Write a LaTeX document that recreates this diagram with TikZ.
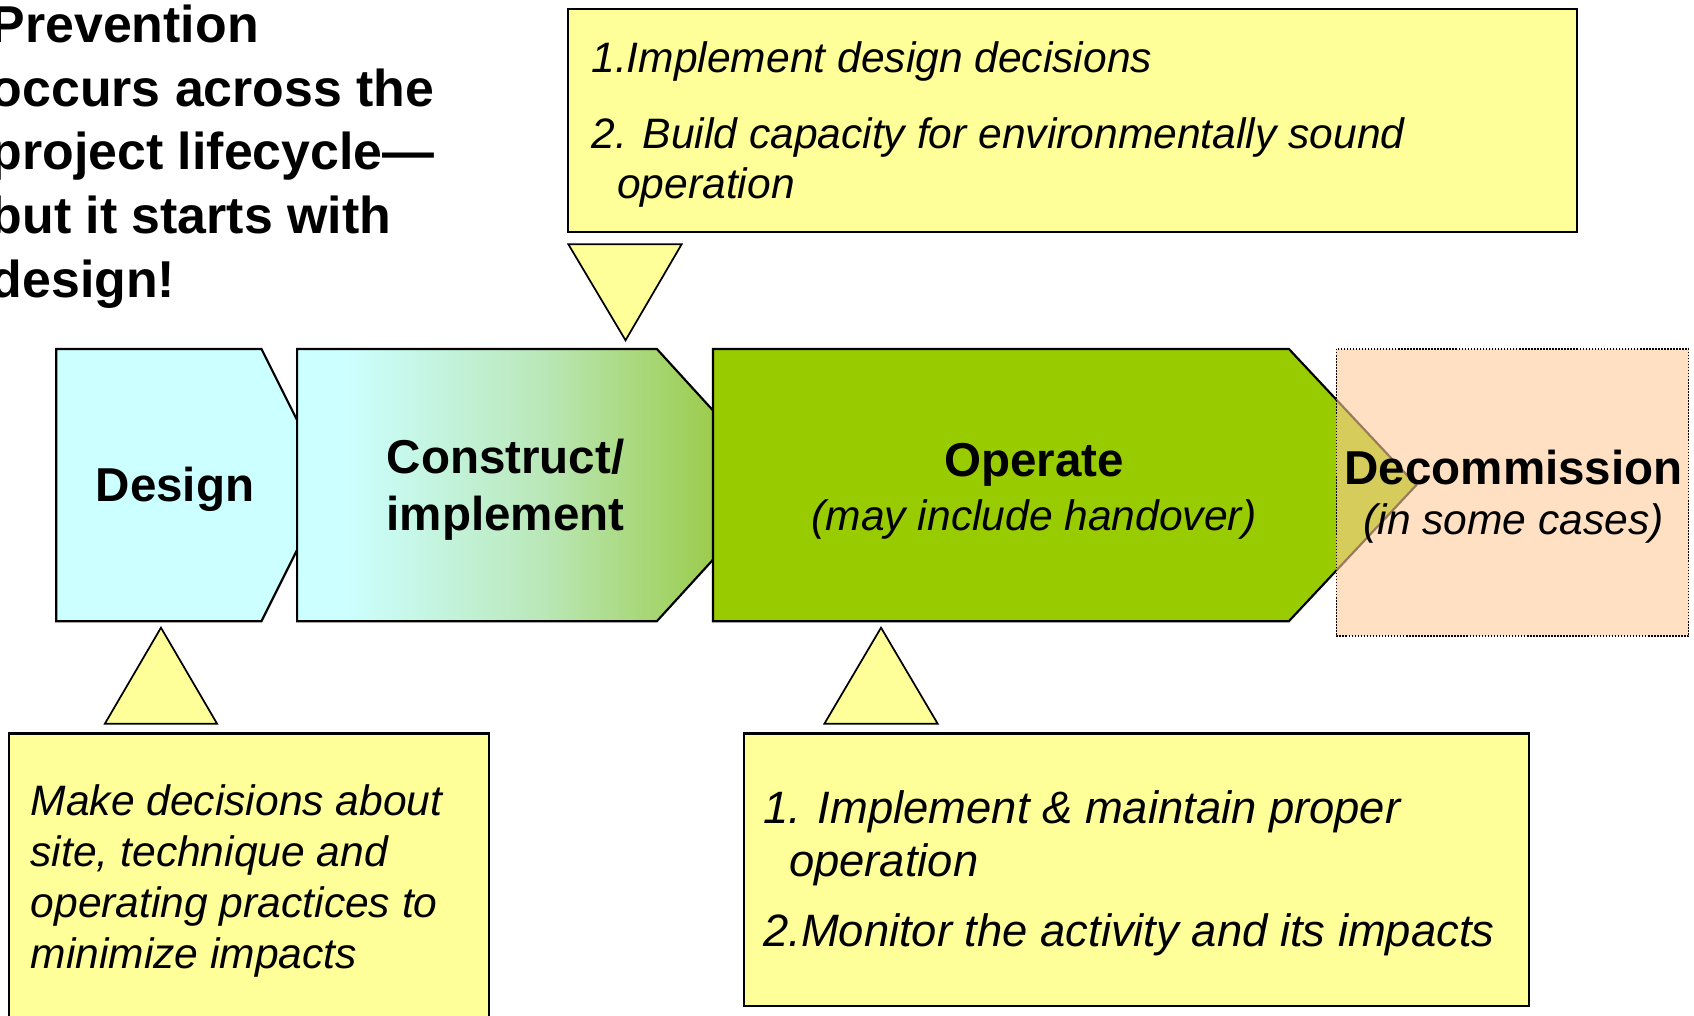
\documentclass[tikz,border=0pt]{standalone}
\usepackage{fontspec}
\setmainfont{Liberation Sans}
\usetikzlibrary{calc}
\tikzset{>=stealth}
\pgfdeclarehorizontalshading{buildshading}{100bp}{rgb(0bp)=(0.8,1,1); rgb(30bp)=(0.8,1,1); rgb(50bp)=(0.73,0.91,0.73); rgb(68bp)=(0.61,0.80,0.30); rgb(75bp)=(0.6,0.8,0.1); rgb(100bp)=(0.6,0.8,0.1)}
\newcommand\phasenotefont{\fontsize{19.7}{23.5}\selectfont\mdseries\itshape}

\begin{document}
\begin{tikzpicture}[x=0.5pt,y=-0.5pt,
  note/.style={draw=black, fill=noteyellow, line width=1pt},
  pointer/.style={draw=black, fill=noteyellow, line width=0.8pt},
  phase/.style={draw=black, line width=1pt},
  notetext/.style={anchor=base west, align=left, inner sep=0pt, font=\fontsize{19.7}{23.5}\selectfont\itshape},
  phasetitle/.style={anchor=base, align=center, inner sep=0pt, font=\fontsize{22}{26.75}\selectfont\bfseries}]
      \definecolor{noteyellow}{RGB}{255,255,153}
      \definecolor{designcyan}{RGB}{204,255,255}
      \definecolor{operategreen}{RGB}{153,204,0}
      \definecolor{decompeach}{RGB}{255,204,153}
\useasboundingbox (0,0) rectangle (1568,940);
\clip (0,0) rectangle (1568,940);

% The heading in the upper left corner, cut at the left edge
% (base of a node with several lines is the base of its last line)
\node [anchor=base west, align=left, inner sep=0pt, font=\fontsize{24}{29.45}\selectfont\bfseries] (heading) at (-9,275)
	{Prevention\\occurs across the\\project lifecycle—\\but it starts with\\design!};

% Note above the chevrons with its pointer
\draw [note] (526,8) rectangle (1460,215);
\node [notetext] (buildnote) at (547,184)
	{1.Implement design decisions\\[11.5pt]2. Build capacity for environmentally sound\\\hspace*{12pt}operation};
\draw [pointer] (526,226) -- (631,226) -- (579,315) -- cycle;

% The lifecycle: each chevron is partly hidden by the next one
\draw [phase, fill=designcyan] (52,323) -- (242,323) -- (305,449) -- (242,575) -- (52,575) -- cycle;
\draw [phase, shade, shading=buildshading] (275,323) -- (608,323) -- (723,449) -- (608,575) -- (275,575) -- cycle;
\draw [phase, fill=operategreen] (660,323) -- (1193,323) -- (1311,449) -- (1193,575) -- (660,575) -- cycle;
\draw [line width=0.8pt, dash pattern=on 0.7pt off 0.7pt, fill=decompeach, fill opacity=0.6] (1237,323) rectangle (1563,589);

\node [phasetitle] (design) at (162,464) {Design};
\node [phasetitle] (construct) at (468,491.5) {Construct/\\implement};
\node [phasetitle] (operate) at (957,490.6) {Operate\\[-2pt]{\phasenotefont(may include handover)}};
\node [phasetitle] (decommission) at (1401,495)
	{Decommission\\[-3.25pt]{\phasenotefont(in some cases)}};

% Notes below the chevrons with their pointers
\draw [pointer] (97,670) -- (201,670) -- (149,581) -- cycle;
\draw [pointer] (763,670) -- (868,670) -- (815.5,581) -- cycle;
\draw [note] (8,679) rectangle (453,960);
\draw [note] (689,679) rectangle (1415,931);
\node [notetext] (designnote) at (28,896)
	{Make decisions about\\site, technique and\\operating practices to\\minimize impacts};
\node [notetext, font=\fontsize{21}{24.5}\selectfont\itshape] (operatenote) at (706,876)
	{1. Implement \& maintain proper\\\hspace*{12pt}operation\\[8pt]2.Monitor the activity and its impacts};
\end{tikzpicture}
\end{document}
